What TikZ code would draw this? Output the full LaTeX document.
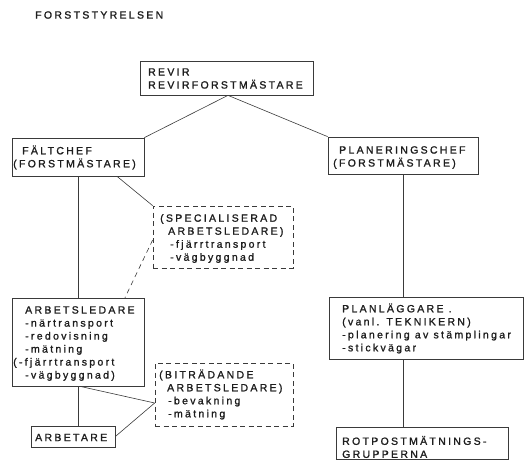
\documentclass[tikz,border=0pt]{standalone}
\usepackage{fontspec}
\newfontfamily\lsfont[LetterSpace=22,FakeBold=1.4]{Liberation Sans}
\definecolor{ink}{HTML}{1E1E1E}
\definecolor{rule}{HTML}{3A3A3A}
\begin{document}
\begin{tikzpicture}[x=1pt,y=-1pt,
  box/.style={draw=rule, line width=0.7pt, inner sep=0pt, minimum width=#1},
  dbox/.style={box=#1, dash pattern=on 5pt off 3.5pt},
  txt/.style={inner sep=0pt, anchor=west, align=left, text=ink,
    font=\fontsize{10.5}{13}\lsfont},
  conn/.style={draw=rule, line width=0.6pt},
  dconn/.style={conn, dash pattern=on 5pt off 4pt}]
\useasboundingbox (0,0) rectangle (525,460);

% boxes
\node[box=173pt, minimum height=34pt] (revir) at (226.5,78) {};
\node[box=132pt, minimum height=38pt] (falt) at (78,157) {};
\node[box=150pt, minimum height=37pt] (plan) at (403,155.5) {};
\node[dbox=140pt, minimum height=62pt] (spec) at (223,237) {};
\node[box=132pt, minimum height=88pt] (arbl) at (78,342) {};
\node[box=84pt, minimum height=21pt] (arbt) at (73,436.5) {};
\node[dbox=138pt, minimum height=63pt] (bit) at (224,394.5) {};
\node[box=194pt, minimum height=62pt] (planl) at (426,328) {};
\node[box=172pt, minimum height=32pt] (rot) at (422,443) {};

% texts
\node[txt] (title) at (35,15) {FORSTSTYRELSEN};
\node[txt] (revir-t) at (148,78.5) {REVIR\\REVIRFORSTMÄSTARE};
\node[txt] (falt-t) at (13,157.5) {\hspace*{9pt}FÄLTCHEF\\(FORSTMÄSTARE)};
\node[txt] (plan-t) at (333,157.5) {\hspace*{6pt}PLANERINGSCHEF\\(FORSTMÄSTARE)};
\node[txt] (spec-t) at (160,238.5) {(SPECIALISERAD\\\hspace*{8pt}ARBETSLEDARE)\\\hspace*{10pt}-fjärrtransport\\\hspace*{10pt}-vägbyggnad};
\node[txt] (arbl-t) at (13,343.5) {\hspace*{12pt}ARBETSLEDARE\\\hspace*{12pt}-närtransport\\\hspace*{12pt}-redovisning\\\hspace*{12pt}-mätning\\(-fjärrtransport\\\hspace*{12pt}-vägbyggnad)};
\node[txt] (arbt-t) at (35,437.5) {ARBETARE};
\node[txt] (bit-t) at (159,394.5) {(BITRÄDANDE\\\hspace*{8pt}ARBETSLEDARE)\\\hspace*{9pt}-bevakning\\\hspace*{9pt}-mätning};
\node[txt] (planl-t) at (342,328.5) {PLANLÄGGARE .\\(vanl. TEKNIKERN)\\-planering av stämplingar\\-stickvägar};
\node[txt] (rot-t) at (342,447) {ROTPOSTMÄTNINGS-\\GRUPPERNA};

% connectors
\draw[conn] ([xshift=1.5pt]revir.south) -- (falt.north east);
\draw[conn] ([xshift=1.5pt]revir.south) -- (plan.north west);
\draw[conn] (falt.south) -- (arbl.north);
\draw[conn] ([xshift=39pt]falt.south) -- (spec.north west);
\draw[dconn] ([yshift=-3pt]spec.west) -- ([xshift=47pt]arbl.north);
\draw[conn] (arbl.south) -- (arbl.south |- arbt.north);
\draw[conn] ([xshift=2pt]arbl.south) -- ([yshift=-8.5pt]bit.west);
\draw[conn] (arbt.east) -- ([yshift=-8.5pt]bit.west);
\draw[conn] (plan.south) -- (plan.south |- planl.north);
\draw[conn] (plan.south |- planl.south) -- (plan.south |- rot.north);
\end{tikzpicture}
\end{document}
